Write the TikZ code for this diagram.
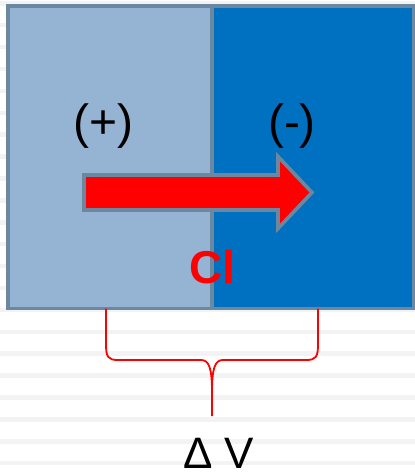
\documentclass[tikz,border=0pt]{standalone}
\usepackage{fontspec}
\setmainfont{Liberation Sans}
\definecolor{stripe}{HTML}{F3F3F3}
\definecolor{lightcell}{HTML}{95B3D3}
\definecolor{darkcell}{HTML}{0070C0}
\definecolor{edge}{HTML}{6C88A0}
\tikzset{
  cell/.style={draw=edge, line width=3.6pt, line join=miter},
  bigarrow/.style={draw=edge, fill=red, line width=3.6pt, line join=miter},
  brace/.style={draw=red, line width=1.8pt},
  sign/.style={font=\fontsize{48}{48}\selectfont, anchor=base, inner sep=0pt},
}
\begin{document}
\begin{tikzpicture}[x=1pt, y=-1pt]
  \useasboundingbox (0,0) rectangle (415,475);
  % lined background
  \foreach \k in {0,...,21} {
    \fill[stripe] (0,{3+21.9*\k-2}) rectangle (415,{3+21.9*\k+2.5});
  }
  % cells
  \fill[lightcell] (8,6) rectangle (212,308.5);
  \fill[darkcell] (212,6) rectangle (414,308.5);
  \draw[cell] (8,6) rectangle (414,308.5);
  \draw[cell] (212,6) -- (212,308.5);
  % labels
  \node[sign] (plus) at (103.5,138) {(+)};
  \node[sign] (minus) at (292,138) {(-)};
  % arrow
  \draw[bigarrow] (84,175) -- (278,175) -- (278,156.5) -- (312,192.5)
     -- (278,228.5) -- (278,210) -- (84,210) -- cycle;
  \node[font=\fontsize{46}{46}\selectfont\bfseries, text=red, anchor=base, inner sep=0pt] (cl) at (212.5,283) {Cl};
  % brace
  \coordinate (bl) at (106,308.5);
  \coordinate (br) at (318,308.5);
  \coordinate (bt) at (212,416);
  \draw[brace] (bl) -- (106,344) .. controls (106,357) and (108,360) .. (118,360)
     -- (201,360) .. controls (209,360) and (212,368) .. (212,392) -- (bt);
  \draw[brace] (br) -- (318,344) .. controls (318,357) and (316,360) .. (306,360)
     -- (223,360) .. controls (215,360) and (212,368) .. (212,392);
  \node[font=\fontsize{44}{44}\selectfont, anchor=base, inner sep=0pt] (dv) at (218.5,468) {Δ V};
\end{tikzpicture}
\end{document}
